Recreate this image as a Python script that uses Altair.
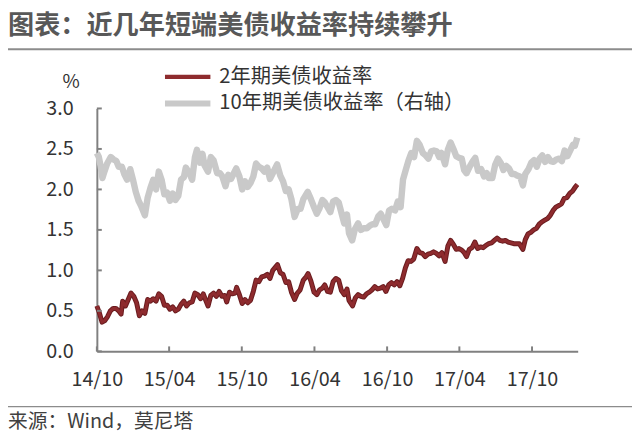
import altair as alt
import pandas as pd

FONT = "Noto Sans CJK SC"
TITLE = "图表：近几年短端美债收益率持续攀升"
SOURCE = "来源：Wind，莫尼塔"
UNIT = "%"
SER2 = "2年期美债收益率"
SER10 = "10年期美债收益率（右轴）"
RED = "#8e2b2e"
RED_EDGE = "#6a1c1f"
GRAY = "#c9c9c9"

dates_10y = [
    "2014-10-01", "2014-10-06", "2014-10-10", "2014-10-15", "2014-10-20", "2014-10-27",
    "2014-11-05", "2014-11-12", "2014-11-19", "2014-11-25", "2014-12-03", "2014-12-09",
    "2014-12-16", "2014-12-24", "2014-12-31", "2015-01-07", "2015-01-14", "2015-01-20",
    "2015-01-30", "2015-02-06", "2015-02-13", "2015-02-20", "2015-02-27", "2015-03-06",
    "2015-03-13", "2015-03-20", "2015-03-27", "2015-04-03", "2015-04-10", "2015-04-17",
    "2015-04-24", "2015-05-01", "2015-05-08", "2015-05-13", "2015-05-22", "2015-05-29",
    "2015-06-05", "2015-06-10", "2015-06-18", "2015-06-24", "2015-06-29", "2015-07-08",
    "2015-07-15", "2015-07-22", "2015-07-31", "2015-08-07", "2015-08-13", "2015-08-21",
    "2015-08-28", "2015-09-04", "2015-09-11", "2015-09-17", "2015-09-25", "2015-10-02",
    "2015-10-09", "2015-10-16", "2015-10-23", "2015-10-30", "2015-11-06", "2015-11-13",
    "2015-11-20", "2015-11-27", "2015-12-04", "2015-12-11", "2015-12-18", "2015-12-29",
    "2016-01-06", "2016-01-13", "2016-01-20", "2016-01-27", "2016-02-03", "2016-02-11",
    "2016-02-19", "2016-02-26", "2016-03-04", "2016-03-15", "2016-03-23", "2016-03-31",
    "2016-04-07", "2016-04-14", "2016-04-21", "2016-04-27", "2016-05-04", "2016-05-11",
    "2016-05-18", "2016-05-25", "2016-06-01", "2016-06-08", "2016-06-15", "2016-06-22",
    "2016-06-27", "2016-07-05", "2016-07-12", "2016-07-20", "2016-07-27", "2016-08-03",
    "2016-08-11", "2016-08-18", "2016-08-25", "2016-09-01", "2016-09-09", "2016-09-15",
    "2016-09-22", "2016-09-29", "2016-10-06", "2016-10-13", "2016-10-21", "2016-10-28",
    "2016-11-04", "2016-11-10", "2016-11-17", "2016-11-24", "2016-12-01", "2016-12-08",
    "2016-12-15", "2016-12-22", "2016-12-30", "2017-01-06", "2017-01-13", "2017-01-20",
    "2017-01-27", "2017-02-03", "2017-02-09", "2017-02-15", "2017-02-24", "2017-03-03",
    "2017-03-10", "2017-03-17", "2017-03-24", "2017-03-31", "2017-04-07", "2017-04-13",
    "2017-04-19", "2017-04-28", "2017-05-05", "2017-05-11", "2017-05-18", "2017-05-26",
    "2017-06-02", "2017-06-09", "2017-06-14", "2017-06-23", "2017-06-30", "2017-07-07",
    "2017-07-14", "2017-07-21", "2017-07-28", "2017-08-04", "2017-08-11", "2017-08-18",
    "2017-08-25", "2017-09-01", "2017-09-08", "2017-09-14", "2017-09-22", "2017-09-29",
    "2017-10-06", "2017-10-13", "2017-10-20", "2017-10-27", "2017-11-03", "2017-11-10",
    "2017-11-17", "2017-11-24", "2017-12-01", "2017-12-08", "2017-12-15", "2017-12-22",
    "2017-12-29", "2018-01-05", "2018-01-12", "2018-01-17", "2018-01-23",
]
vals_10y = [
    2.45, 2.40, 2.30, 2.14, 2.22, 2.32,
    2.40, 2.37, 2.35, 2.28, 2.28, 2.19,
    2.12, 2.25, 2.12, 1.97, 1.86, 1.80,
    1.68, 1.90, 2.02, 2.12, 2.00, 2.22,
    2.12, 1.94, 1.96, 1.86, 1.95, 1.87,
    1.92, 2.12, 2.15, 2.27, 2.20, 2.12,
    2.40, 2.49, 2.33, 2.44, 2.30, 2.22,
    2.40, 2.36, 2.20, 2.20, 2.16, 2.04,
    2.18, 2.13, 2.20, 2.26, 2.16, 2.00,
    2.10, 2.03, 2.08, 2.16, 2.32, 2.28,
    2.26, 2.22, 2.27, 2.13, 2.20, 2.31,
    2.17, 2.10, 1.98, 2.00, 1.88, 1.66,
    1.76, 1.76, 1.88, 1.97, 1.88, 1.78,
    1.70, 1.77, 1.87, 1.84, 1.78, 1.72,
    1.85, 1.87, 1.84, 1.71, 1.58, 1.69,
    1.46, 1.37, 1.51, 1.58, 1.50, 1.52,
    1.52, 1.55, 1.57, 1.57, 1.67, 1.70,
    1.63, 1.56, 1.74, 1.76, 1.74, 1.85,
    1.78, 2.12, 2.24, 2.36, 2.45, 2.40,
    2.60, 2.55, 2.45, 2.42, 2.38, 2.47,
    2.48, 2.47, 2.40, 2.45, 2.31, 2.49,
    2.58, 2.50, 2.41, 2.39, 2.38, 2.24,
    2.20, 2.29, 2.35, 2.39, 2.23, 2.25,
    2.16, 2.20, 2.14, 2.14, 2.30, 2.38,
    2.33, 2.24, 2.29, 2.26, 2.19, 2.19,
    2.17, 2.16, 2.05, 2.19, 2.25, 2.33,
    2.36, 2.28, 2.38, 2.42, 2.34, 2.40,
    2.35, 2.34, 2.37, 2.38, 2.35, 2.48,
    2.41, 2.48, 2.55, 2.54, 2.64,
]

dates_2y = [
    "2014-10-01", "2014-10-07", "2014-10-14", "2014-10-21", "2014-10-28", "2014-11-04",
    "2014-11-11", "2014-11-18", "2014-11-25", "2014-12-01", "2014-12-05", "2014-12-12",
    "2014-12-19", "2014-12-26", "2015-01-02", "2015-01-09", "2015-01-16", "2015-01-23",
    "2015-01-30", "2015-02-06", "2015-02-13", "2015-02-20", "2015-02-27", "2015-03-06",
    "2015-03-13", "2015-03-20", "2015-03-27", "2015-04-03", "2015-04-10", "2015-04-17",
    "2015-04-24", "2015-05-01", "2015-05-08", "2015-05-15", "2015-05-22", "2015-05-29",
    "2015-06-05", "2015-06-12", "2015-06-19", "2015-06-26", "2015-07-03", "2015-07-08",
    "2015-07-15", "2015-07-22", "2015-07-29", "2015-08-05", "2015-08-12", "2015-08-19",
    "2015-08-24", "2015-08-31", "2015-09-07", "2015-09-14", "2015-09-18", "2015-09-25",
    "2015-10-02", "2015-10-09", "2015-10-16", "2015-10-23", "2015-10-30", "2015-11-06",
    "2015-11-13", "2015-11-20", "2015-11-27", "2015-12-04", "2015-12-11", "2015-12-18",
    "2015-12-30", "2016-01-06", "2016-01-13", "2016-01-20", "2016-01-27", "2016-02-03",
    "2016-02-11", "2016-02-18", "2016-02-25", "2016-03-04", "2016-03-11", "2016-03-16",
    "2016-03-23", "2016-03-31", "2016-04-07", "2016-04-14", "2016-04-21", "2016-04-27",
    "2016-05-04", "2016-05-11", "2016-05-18", "2016-05-25", "2016-06-01", "2016-06-08",
    "2016-06-15", "2016-06-22", "2016-06-27", "2016-07-06", "2016-07-13", "2016-07-20",
    "2016-07-27", "2016-08-03", "2016-08-10", "2016-08-17", "2016-08-24", "2016-08-31",
    "2016-09-07", "2016-09-14", "2016-09-21", "2016-09-28", "2016-10-05", "2016-10-12",
    "2016-10-19", "2016-10-26", "2016-11-02", "2016-11-09", "2016-11-16", "2016-11-23",
    "2016-11-30", "2016-12-07", "2016-12-15", "2016-12-22", "2016-12-29", "2017-01-05",
    "2017-01-12", "2017-01-19", "2017-01-26", "2017-02-02", "2017-02-09", "2017-02-16",
    "2017-02-24", "2017-03-03", "2017-03-10", "2017-03-17", "2017-03-24", "2017-03-31",
    "2017-04-07", "2017-04-13", "2017-04-19", "2017-04-26", "2017-05-03", "2017-05-10",
    "2017-05-17", "2017-05-24", "2017-05-31", "2017-06-07", "2017-06-14", "2017-06-21",
    "2017-06-28", "2017-07-05", "2017-07-12", "2017-07-19", "2017-07-26", "2017-08-02",
    "2017-08-09", "2017-08-16", "2017-08-23", "2017-08-30", "2017-09-08", "2017-09-14",
    "2017-09-21", "2017-09-28", "2017-10-05", "2017-10-12", "2017-10-19", "2017-10-26",
    "2017-11-02", "2017-11-09", "2017-11-16", "2017-11-23", "2017-11-30", "2017-12-07",
    "2017-12-14", "2017-12-21", "2017-12-28", "2018-01-04", "2018-01-11", "2018-01-18",
    "2018-01-23",
]
vals_2y = [
    0.56, 0.48, 0.36, 0.38, 0.43, 0.50,
    0.53, 0.53, 0.50, 0.46, 0.62, 0.56,
    0.64, 0.72, 0.68, 0.60, 0.44, 0.50,
    0.47, 0.64, 0.62, 0.65, 0.62, 0.71,
    0.68, 0.57, 0.57, 0.52, 0.55, 0.50,
    0.52, 0.58, 0.62, 0.56, 0.60, 0.61,
    0.72, 0.70, 0.65, 0.71, 0.62, 0.56,
    0.69, 0.72, 0.68, 0.74, 0.68, 0.69,
    0.61, 0.73, 0.71, 0.72, 0.79, 0.70,
    0.59, 0.64, 0.60, 0.63, 0.74, 0.88,
    0.86, 0.92, 0.93, 0.95, 0.90, 1.00,
    1.07, 0.97, 0.95, 0.85, 0.86, 0.73,
    0.64, 0.72, 0.76, 0.88, 0.92, 0.96,
    0.87, 0.73, 0.70, 0.76, 0.78, 0.82,
    0.74, 0.73, 0.86, 0.90, 0.88, 0.75,
    0.70, 0.77, 0.63, 0.56, 0.66, 0.70,
    0.68, 0.67, 0.71, 0.73, 0.76, 0.80,
    0.77, 0.78, 0.80, 0.74, 0.82, 0.85,
    0.82, 0.86, 0.81, 0.90, 1.03, 1.12,
    1.11, 1.14, 1.27, 1.22, 1.21, 1.17,
    1.20, 1.21, 1.23, 1.21, 1.18, 1.22,
    1.11, 1.30, 1.37, 1.32, 1.26, 1.27,
    1.25, 1.22, 1.17, 1.26, 1.28, 1.35,
    1.27, 1.29, 1.28, 1.31, 1.33, 1.34,
    1.37, 1.40, 1.37, 1.36, 1.37, 1.35,
    1.34, 1.33, 1.33, 1.33, 1.26, 1.38,
    1.45, 1.47, 1.50, 1.52, 1.57, 1.60,
    1.62, 1.64, 1.68, 1.74, 1.78, 1.80,
    1.82, 1.89, 1.90, 1.95, 1.98, 2.03,
    2.06,
]

y_ticks = [0.0, 0.5, 1.0, 1.5, 2.0, 2.5, 3.0]
x_tick_dates = ["2014-10-01", "2015-04-01", "2015-10-01", "2016-04-01",
                "2016-10-01", "2017-04-01", "2017-10-01"]
x_start = "2014-10-01"
x_end = "2018-01-24"

W, H = 487, 246

df10 = pd.DataFrame({"date": dates_10y, "value": vals_10y})
df2 = pd.DataFrame({"date": dates_2y, "value": vals_2y})


def dt(s):
    y, m, d = (int(p) for p in s.split("-"))
    return alt.DateTime(year=y, month=m, date=d, utc=True)


xscale = alt.Scale(type="utc", domain=[dt(x_start), dt(x_end)])
yscale = alt.Scale(domain=[0, 3], nice=False, zero=True)

x_enc = alt.X(
    "date:T", scale=xscale, title=None,
    axis=alt.Axis(values=[dt(s) for s in x_tick_dates], format="%y/%m",
                  labelFontSize=20, labelFont=FONT, labelColor="#333333",
                  ticks=False, grid=False, domainColor="#808080",
                  domainWidth=2, labelPadding=19, labelOverlap=False,
                  labelFlush=False, labelBound=False),
)
y_enc = alt.Y(
    "value:Q", scale=yscale, title=None,
    axis=alt.Axis(values=y_ticks, format=".1f",
                  labelFontSize=20, labelFont=FONT, labelColor="#333333",
                  ticks=False, grid=False, domainColor="#808080",
                  domainWidth=2, labelPadding=24, labelOverlap=False),
)

gray_line = alt.Chart(df10).mark_line(
    strokeWidth=6.5, strokeJoin="round", color=GRAY
).encode(x=x_enc, y=y_enc)
red_edge = alt.Chart(df2).mark_line(
    strokeWidth=5, strokeJoin="round", color=RED_EDGE
).encode(x=x_enc, y=y_enc)
red_line = alt.Chart(df2).mark_line(
    strokeWidth=3, strokeJoin="round", color=RED
).encode(x=x_enc, y=y_enc)

ytick_df = pd.DataFrame({"value": y_ticks})
ytick_layer = alt.Chart(ytick_df).mark_rule(color="#808080", strokeWidth=2).encode(
    y=y_enc, x=alt.value(0), x2=alt.value(5),
)
xtick_df = pd.DataFrame({"date": x_tick_dates})
xtick_layer = alt.Chart(xtick_df).mark_rule(color="#808080", strokeWidth=2).encode(
    x=x_enc, y=alt.value(H), y2=alt.value(H - 5),
)

# legend (drawn by hand, like the original)
leg_red_line = alt.Chart(pd.DataFrame({"s": [SER2]})).mark_rule(
    color=RED, strokeWidth=4.5).encode(
    x=alt.value(69), x2=alt.value(115), y=alt.value(-32))
leg_gray_line = alt.Chart(pd.DataFrame({"s": [SER10]})).mark_rule(
    color=GRAY, strokeWidth=6).encode(
    x=alt.value(69), x2=alt.value(115), y=alt.value(-5))
leg_red_text = alt.Chart(pd.DataFrame({"s": [SER2]})).mark_text(
    align="left", baseline="middle", fontSize=20.5, color="#333333", font=FONT,
).encode(text="s:N", x=alt.value(124), y=alt.value(-32))
leg_gray_text = alt.Chart(pd.DataFrame({"s": [SER10]})).mark_text(
    align="left", baseline="middle", fontSize=20.5, color="#333333", font=FONT,
).encode(text="s:N", x=alt.value(124), y=alt.value(-5))

one = pd.DataFrame({"t": [0]})
title_layer = alt.Chart(pd.DataFrame({"t": [TITLE]})).mark_text(
    align="left", baseline="middle", fontSize=26.5, fontWeight="bold",
    color="#585858", font=FONT,
).encode(text="t:N", x=alt.value(-90), y=alt.value(-83))
top_rule = alt.Chart(one).mark_rule(color="#8c8c8c", strokeWidth=2).encode(
    x=alt.value(-98), x2=alt.value(542), y=alt.value(-60))
unit_layer = alt.Chart(pd.DataFrame({"t": [UNIT]})).mark_text(
    align="center", baseline="middle", fontSize=19, color="#333333", font=FONT,
).encode(text="t:N", x=alt.value(-26), y=alt.value(-27))
bottom_rule = alt.Chart(one).mark_rule(color="#8c8c8c", strokeWidth=1.5).encode(
    x=alt.value(-98), x2=alt.value(542), y=alt.value(302))
source_layer = alt.Chart(pd.DataFrame({"t": [SOURCE]})).mark_text(
    align="left", baseline="middle", fontSize=20, color="#404040", font=FONT,
).encode(text="t:N", x=alt.value(-90), y=alt.value(318))

chart = alt.layer(
    gray_line, red_edge, red_line, ytick_layer, xtick_layer,
    leg_red_line, leg_gray_line, leg_red_text, leg_gray_text,
    title_layer, top_rule, unit_layer, bottom_rule, source_layer,
).properties(
    width=W, height=H, autosize="none",
    padding={"left": 90, "top": 99, "right": 55, "bottom": 83},
).configure(font=FONT, background="white").configure_view(stroke=None)

chart.save("out.html", embed_options={"renderer": "svg", "actions": False})
